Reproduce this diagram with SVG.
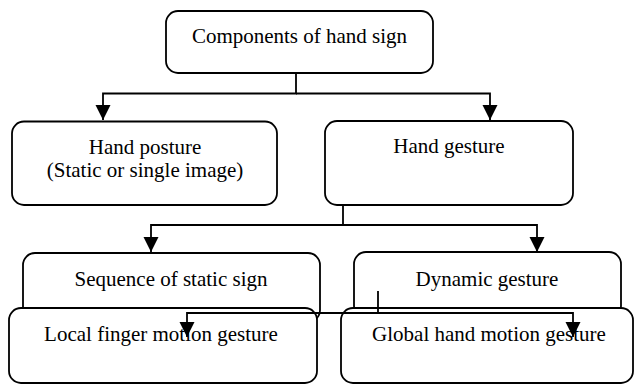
<svg xmlns="http://www.w3.org/2000/svg" width="635" height="385" viewBox="0 0 635 385">
<style>
.box{fill:#fff;stroke:#000;stroke-width:1.8}
.lbl{font-size:21px;fill:#000;text-anchor:middle}
.conn{fill:none;stroke:#000;stroke-width:1.8}
</style>
<defs>
<marker id="ah" markerUnits="userSpaceOnUse" markerWidth="16" markerHeight="16" refX="15" refY="8" orient="auto">
<path d="M0,0.5 L15,8 L0,15.5 z" fill="#000"/>
</marker>
</defs>
<rect width="635" height="385" fill="#fff"/>
<g font-family="'Liberation Serif', 'Times New Roman', Times, serif">
<g id="n-root">
<rect class="box" x="166" y="11" width="267" height="62" rx="12"/>
<text class="lbl" x="299.5" y="43">Components of hand sign</text>
</g>
<g id="n-posture">
<rect class="box" x="12" y="121.5" width="265" height="83.5" rx="12"/>
<text class="lbl" x="145" y="154">Hand posture</text>
<text class="lbl" x="145" y="176.5">(Static or single image)</text>
</g>
<g id="n-gesture">
<rect class="box" x="325" y="121" width="248" height="84" rx="12"/>
<text class="lbl" x="449" y="153">Hand gesture</text>
</g>
<g id="n-sequence">
<rect class="box" x="23" y="253" width="297" height="69" rx="12"/>
<text class="lbl" x="171" y="286">Sequence of static sign</text>
</g>
<g id="n-dynamic">
<rect class="box" x="354" y="252" width="267" height="66" rx="12"/>
<text class="lbl" x="487" y="286">Dynamic gesture</text>
</g>
<g id="n-local">
<rect class="box" x="9" y="308" width="308" height="75" rx="12"/>
<text class="lbl" x="161" y="341">Local finger motion gesture</text>
</g>
<g id="n-global">
<rect class="box" x="341" y="308" width="292" height="75" rx="12"/>
<text class="lbl" x="489" y="341">Global hand motion gesture</text>
</g>
</g>
<g id="connectors">
<path class="conn" d="M296,73 V93.5 H103 V120" marker-end="url(#ah)"/>
<path class="conn" d="M296,93.5 H490 V120" marker-end="url(#ah)"/>
<path class="conn" d="M343,205 V225 H151 V252" marker-end="url(#ah)"/>
<path class="conn" d="M343,225 H537 V252" marker-end="url(#ah)"/>
<path class="conn" d="M378,291 V313 H187 V337" marker-end="url(#ah)"/>
<path class="conn" d="M378,313 H573 V337" marker-end="url(#ah)"/>
</g>
</svg>
